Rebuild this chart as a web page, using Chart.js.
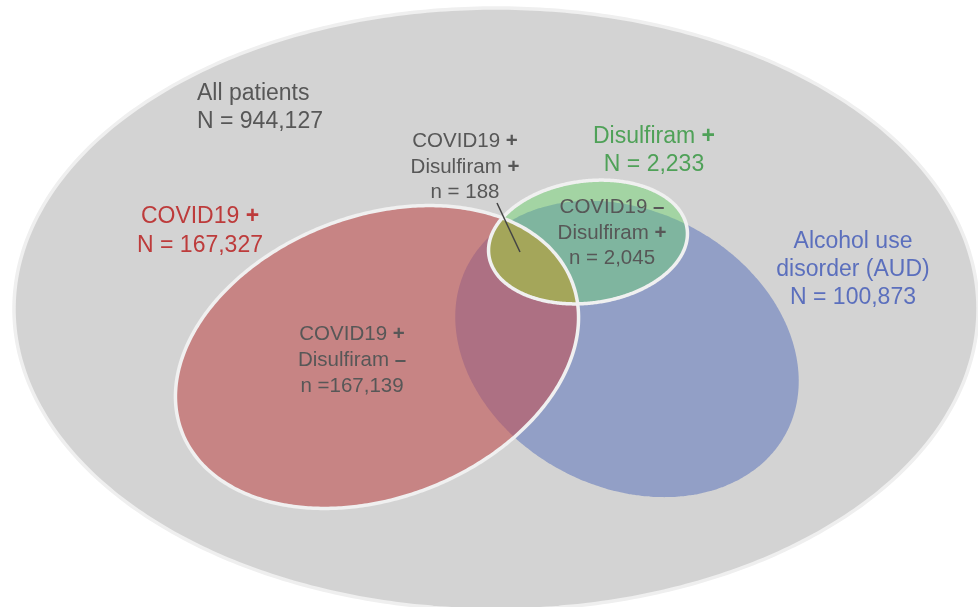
<!DOCTYPE html>
<html>
<head>
<meta charset="utf-8">
<script src="https://cdn.jsdelivr.net/npm/chart.js@4.4.1/dist/chart.umd.min.js"></script>
<style>
  html, body { margin: 0; background: #fff; }
  #wrap { width: 978px; height: 607px; }
</style>
</head>
<body>
<div id="wrap"><canvas id="venn"></canvas></div>
<script>
// population sizes printed on the figure
const setNames = ['All patients', 'COVID19 +', 'Alcohol use\ndisorder (AUD)', 'Disulfiram +'];
const setCounts = [944127, 167327, 100873, 2233];
const subsetNames = ['COVID19 +\nDisulfiram +', 'COVID19 +\nDisulfiram \u2013', 'COVID19 \u2013\nDisulfiram +'];
const subsetCounts = [188, 167139, 2045];

// ellipse for each set in plot units (x 0..978, y 0..607 downwards), rot in degrees
const shapes = [
  { cx: 496, cy: 309, rx: 482, ry: 301, rot: 0 },     // all patients
  { cx: 627, cy: 349, rx: 180, ry: 138, rot: 27.8 },  // AUD
  { cx: 377, cy: 357, rx: 209, ry: 141, rot: -21 },   // COVID19
  { cx: 588, cy: 242, rx: 100, ry: 61, rot: -7.6 }    // disulfiram
];
const fillColors = ['#d3d3d3', '#929fc6', '#c78484', '#a3d4a3'];
const borderColors = ['#efefef', 'rgba(0,0,0,0)', '#f0f0f0', '#f0f0f0'];
const borderWidths = [3.5, 0, 3.5, 3.5];
const drawOrder = [4, 3, 2, 1];

// overlap tints: fill dataset `fill` clipped to dataset `clip`
const overlaps = [
  { fill: 2, clip: 1, color: '#ad7083' },
  { fill: 3, clip: 1, color: '#7fb59f' },
  { fill: 3, clip: 2, color: '#a4a65a' }
];

function outline(s, n = 240) {
  const r = s.rot * Math.PI / 180;
  const pts = [];
  for (let i = 0; i <= n; i++) {
    const t = i / n * Math.PI * 2;
    const ex = s.rx * Math.cos(t), ey = s.ry * Math.sin(t);
    pts.push({ x: s.cx + ex * Math.cos(r) - ey * Math.sin(r), y: s.cy + ex * Math.sin(r) + ey * Math.cos(r) });
  }
  return pts;
}

const fmt = n => n.toLocaleString('en-US');
const FONT = "'Liberation Sans', Arial, sans-serif";
const grey = '#575757';

const labels = [
  { text: setNames[0] + '\nN = ' + fmt(setCounts[0]), x: 197, y: 100, align: 'left', size: 23, lh: 28, color: grey },
  { text: setNames[1] + '\nN = ' + fmt(setCounts[1]), x: 200, y: 223, size: 23, lh: 29, color: '#bd3b3b' },
  { text: setNames[2] + '\nN = ' + fmt(setCounts[2]), x: 853, y: 248, size: 23, lh: 28, color: '#5b6fbd' },
  { text: setNames[3] + '\nN = ' + fmt(setCounts[3]), x: 654, y: 143, size: 23, lh: 28, color: '#4fa158' },
  { text: subsetNames[0] + '\nn = ' + fmt(subsetCounts[0]), x: 465, y: 147, size: 20.5, lh: 25.5, color: grey },
  { text: subsetNames[1] + '\nn =' + fmt(subsetCounts[1]), x: 352, y: 340, size: 20.5, lh: 26, color: grey },
  { text: subsetNames[2] + '\nn = ' + fmt(subsetCounts[2]), x: 612, y: 213, size: 20.5, lh: 25.5, color: grey }
];
// leader from the "n = 188" label into the triple overlap
const leader = [{ x: 497, y: 203 }, { x: 520, y: 252 }];

const overlapPlugin = {
  id: 'overlaps',
  beforeDatasetsDraw(chart) {
    const ctx = chart.ctx;
    overlaps.forEach(o => {
      const shape = chart.getDatasetMeta(o.fill).dataset;
      const clip = chart.getDatasetMeta(o.clip).dataset;
      ctx.save();
      ctx.beginPath(); clip.path(ctx); ctx.closePath(); ctx.clip();
      ctx.beginPath(); shape.path(ctx); ctx.closePath();
      ctx.fillStyle = o.color;
      ctx.fill();
      ctx.restore();
    });
  }
};

const labelPlugin = {
  id: 'vennLabels',
  afterDatasetsDraw(chart) {
    const ctx = chart.ctx;
    const xs = chart.scales.x, ys = chart.scales.y;
    ctx.save();
    ctx.strokeStyle = '#444';
    ctx.lineWidth = 1.5;
    ctx.beginPath();
    ctx.moveTo(xs.getPixelForValue(leader[0].x), ys.getPixelForValue(leader[0].y));
    ctx.lineTo(xs.getPixelForValue(leader[1].x), ys.getPixelForValue(leader[1].y));
    ctx.stroke();

    ctx.textBaseline = 'alphabetic';
    ctx.textAlign = 'left';
    labels.forEach(l => {
      const normal = l.size + 'px ' + FONT;
      const bold = 'bold ' + l.size + 'px ' + FONT;
      ctx.fillStyle = l.color;
      l.text.split('\n').forEach((line, i) => {
        const m = line.match(/^(.*\s)([+\u2013])$/);
        const head = m ? m[1] : line, sign = m ? m[2] : '';
        ctx.font = normal;
        const w1 = ctx.measureText(head).width;
        ctx.font = bold;
        const w2 = sign ? ctx.measureText(sign).width : 0;
        let x = xs.getPixelForValue(l.x);
        if (l.align !== 'left') x -= (w1 + w2) / 2;
        const y = ys.getPixelForValue(l.y + i * l.lh);
        ctx.font = normal;
        ctx.fillText(head, x, y);
        if (sign) { ctx.font = bold; ctx.fillText(sign, x + w1, y); }
      });
    });
    ctx.restore();
  }
};

new Chart(document.getElementById('venn'), {
  type: 'scatter',
  data: {
    datasets: shapes.map((s, i) => ({
      data: outline(s),
      showLine: true,
      fill: 'shape',
      backgroundColor: fillColors[i],
      borderColor: borderColors[i],
      borderWidth: borderWidths[i],
      pointRadius: 0,
      pointHoverRadius: 0,
      tension: 0.2,
      order: drawOrder[i],
      clip: false
    }))
  },
  options: {
    responsive: true,
    maintainAspectRatio: false,
    animation: false,
    events: [],
    layout: { padding: 0 },
    scales: {
      x: { type: 'linear', min: 0, max: 978, display: false },
      y: { type: 'linear', min: 0, max: 607, reverse: true, display: false }
    },
    plugins: {
      legend: { display: false },
      tooltip: { enabled: false },
      filler: { drawTime: 'beforeDraw' }
    }
  },
  plugins: [overlapPlugin, labelPlugin]
});
</script>
</body>
</html>
